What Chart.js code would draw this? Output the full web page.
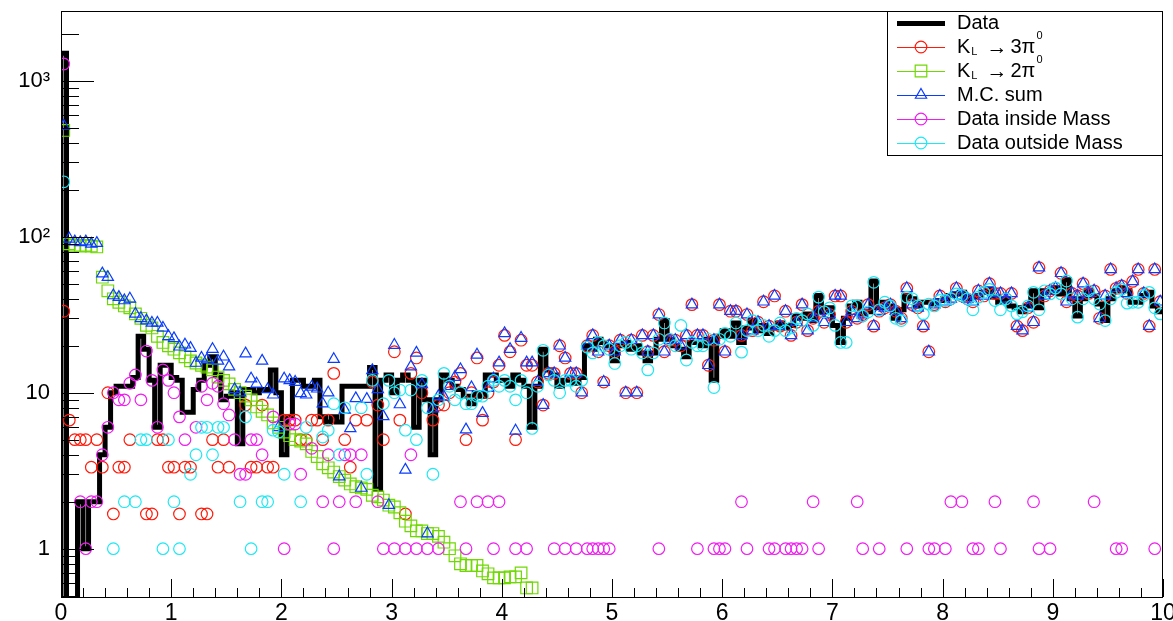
<!DOCTYPE html>
<html>
<head>
<meta charset="utf-8">
<title>KL -> pi0 spectrum</title>
<script src="https://cdn.jsdelivr.net/npm/chart.js@4.4.1/dist/chart.umd.min.js"></script>
<style>
  html, body { margin: 0; padding: 0; background: #fff; }
  #wrap { width: 1173px; height: 621px; }
</style>
</head>
<body>
<div id="wrap"><canvas id="c" width="1173" height="621"></canvas></div>
<script>
/* ============================================================
   Histogram: 200 bins of 0.05 between 0 and 10, log y axis
   ============================================================ */

const BIN_WIDTH = 0.05;
const xTickValues = [0, 1, 2, 3, 4, 5, 6, 7, 8, 9, 10];
const yTickValues = [1, 10, 100, 1000];
const yTickLabels = ['1', '10', '10\u00b2', '10\u00b3'];

/* Data (black histogram) */
const dataCounts = [
  1500, 0, 0, 2, 1, 2, 2, 4, 6, 10, 11, 11, 11, 12.5, 23, 19, 12, 6, 15, 15,
  12.5, 12, 7.5, 7.5, 10.5, 12, 15, 17, 13, 9, 9.5, 10, 4.7, 10.5, 10.5, 10, 10.5, 10.5, 14, 10,
  4, 7, 12, 12, 11, 11, 12, 7, 6.5, 7, 6.5, 11, 11, 11, 11, 11, 14.5, 2.4, 12, 13,
  10, 12, 13, 12, 6, 12, 9, 4, 9, 13, 12, 11, 10.5, 9.5, 8.5, 10, 9.5, 13, 13, 12,
  12, 11, 13, 12, 11, 6, 11, 19, 14, 13, 11, 12, 12.5, 11.5, 12.5, 20, 19, 22, 21, 20,
  16, 20, 21, 19, 20, 18, 16, 18, 22, 29, 22, 20, 19, 17, 21, 21, 20, 22, 12, 23,
  25, 23, 28, 21, 26, 29, 25, 27, 24, 26, 28, 26, 27, 31, 30, 32, 29, 42, 33, 35,
  27, 21, 30, 36, 38, 32, 33, 52, 35, 38, 36, 30, 34, 42, 40, 36, 38, 38, 37, 39,
  40, 42, 43, 44, 40, 41, 42, 44, 46, 41, 38, 40, 36, 35, 33, 36, 45, 35, 45, 44,
  47, 43, 53, 40, 31, 40, 45, 42, 37, 29, 40, 45, 47, 45, 38, 38, 42, 44, 36, 33
];

/* K_L -> 3pi0 (red circles) */
const k3pi0 = [
  33.3, 6.67, 5, 5, 5, 3.33, 5, 3.33, 10, 1.67, 3.33, 3.33, 5, 0, 0, 1.67, 1.67, 5, 5, 3.33,
  3.33, 1.67, 3.33, 3.33, 0, 1.67, 1.67, 5, 3.33, 5, 3.33, 0, 0, 8.33, 3.33, 3.33, 8.33, 3.33, 3.33, 0,
  6.67, 6.67, 6.67, 5, 5, 6.67, 6.67, 5, 6.67, 13.3, 0, 5, 3.33, 6.67, 0, 6.67, 11.7, 8.33, 5, 0,
  18.3, 6.67, 1.67, 13.3, 16.7, 10, 0, 6.67, 8.33, 8.33, 10, 11.7, 13.3, 5, 10, 16.7, 6.67, 10, 11.7, 15,
  23.3, 18.3, 5, 21.7, 15, 15, 11.7, 8.33, 13.3, 13.3, 20, 16.7, 13.3, 13.3, 10, 20, 23.3, 18.3, 11.7, 20,
  18.3, 21.7, 10, 21.7, 10, 23.3, 18.3, 23.3, 31.7, 18.3, 21.7, 21.7, 20, 23.3, 36.7, 23.3, 23.3, 15, 21.7, 36.7,
  18.3, 33.3, 33.3, 23.3, 31.7, 25, 28.3, 38.3, 26.7, 41.7, 26.7, 33.3, 23.3, 28.3, 36.7, 25, 30, 33.3, 28.3, 31.7,
  41.7, 41.7, 28.3, 33.3, 30, 31.7, 36.7, 26.7, 33.3, 35, 36.7, 33.3, 30, 46.7, 36.7, 35, 26.7, 18.3, 36.7, 41.7,
  38.3, 40, 46.7, 41.7, 40, 38.3, 45, 41.7, 50, 43.3, 43.3, 40, 43.3, 26.7, 25, 35, 28.3, 63.3, 41.7, 45,
  46.7, 58.3, 38.3, 43.3, 41.7, 50, 43.3, 45, 30, 41.7, 61.7, 46.7, 48.3, 43.3, 51.7, 61.7, 43.3, 26.7, 61.7, 38.3
];

/* K_L -> 2pi0 (green squares) */
const k2pi0 = [
  480, 90, 88, 87, 88, 87, 86, 55, 45, 40, 38, 36, 35, 32, 30, 27, 26, 23, 21, 20,
  19, 18, 17, 16, 15.5, 15, 14.6, 14, 12.6, 12, 11.4, 10.5, 10, 9.5, 9, 8.1, 7.6, 7.2, 6.4, 6,
  5.6, 5.3, 5, 4.9, 4.7, 4.2, 3.9, 3.5, 3.3, 3.1, 2.9, 2.75, 2.6, 2.5, 2.45, 2.4, 2.2, 2.15, 2.05, 1.9,
  1.85, 1.7, 1.5, 1.4, 1.3, 1.3, 1.25, 1.25, 1.2, 1.1, 1, 0.9, 0.8, 0.78, 0.78, 0.78, 0.72, 0.69, 0.65, 0.65,
  0.65, 0.66, 0.66, 0.7, 0.56, 0.56, 0, 0, 0, 0, 0, 0, 0, 0, 0, 0, 0, 0, 0, 0,
  0, 0, 0, 0, 0, 0, 0, 0, 0, 0, 0, 0, 0, 0, 0, 0, 0, 0, 0, 0,
  0, 0, 0, 0, 0, 0, 0, 0, 0, 0, 0, 0, 0, 0, 0, 0, 0, 0, 0, 0,
  0, 0, 0, 0, 0, 0, 0, 0, 0, 0, 0, 0, 0, 0, 0, 0, 0, 0, 0, 0,
  0, 0, 0, 0, 0, 0, 0, 0, 0, 0, 0, 0, 0, 0, 0, 0, 0, 0, 0, 0,
  0, 0, 0, 0, 0, 0, 0, 0, 0, 0, 0, 0, 0, 0, 0, 0, 0, 0, 0, 0
];

/* M.C. sum (blue triangles) */
const mcSum = [
  513, 97, 93, 92, 93, 90, 91, 58, 55, 42, 41, 39, 40, 32, 30, 29, 28, 28, 26, 23,
  22.3, 19.7, 20.3, 19.3, 15.5, 16.7, 16.3, 19, 16, 17, 14.7, 10.5, 10, 17.8, 12.3, 11.4, 16, 10.5, 9.7, 6,
  12.3, 12, 11.7, 9.9, 9.7, 10.9, 10.6, 8.5, 10, 16.4, 2.9, 7.75, 5.9, 9.2, 2.45, 9.1, 13.9, 10.5, 7.05, 1.9,
  20.2, 8.4, 3.2, 14.7, 18, 11.3, 1.25, 7.9, 9.5, 9.4, 11, 12.6, 14.1, 5.8, 10.8, 17.5, 7.4, 10.7, 12.3, 15.6,
  24, 19, 5.7, 22.4, 15.6, 15.6, 11.7, 8.33, 13.3, 13.3, 20, 16.7, 13.3, 13.3, 10, 20, 23.3, 18.3, 11.7, 20,
  18.3, 21.7, 10, 21.7, 10, 23.3, 18.3, 23.3, 31.7, 18.3, 21.7, 21.7, 20, 23.3, 36.7, 23.3, 23.3, 15, 21.7, 36.7,
  18.3, 33.3, 33.3, 23.3, 31.7, 25, 28.3, 38.3, 26.7, 41.7, 26.7, 33.3, 23.3, 28.3, 36.7, 25, 30, 33.3, 28.3, 31.7,
  41.7, 41.7, 28.3, 33.3, 30, 31.7, 36.7, 26.7, 33.3, 35, 36.7, 33.3, 30, 46.7, 36.7, 35, 26.7, 18.3, 36.7, 41.7,
  38.3, 40, 46.7, 41.7, 40, 38.3, 45, 41.7, 50, 43.3, 43.3, 40, 43.3, 26.7, 25, 35, 28.3, 63.3, 41.7, 45,
  46.7, 58.3, 38.3, 43.3, 41.7, 50, 43.3, 45, 30, 41.7, 61.7, 46.7, 48.3, 43.3, 51.7, 61.7, 43.3, 26.7, 61.7, 38.3
];

/* Data inside Mass (magenta circles) */
const dataInside = [
  1280, 0, 0, 2, 1, 2, 2, 4, 6, 10, 9, 9, 11.5, 13, 9, 18.5, 12, 6, 14, 12,
  10, 7, 5, 0, 6, 11, 9, 11.5, 11, 8.5, 7.2, 5, 3, 3, 5, 5, 4, 0, 7, 0,
  1, 6.3, 6.3, 3, 0, 4.4, 0, 2, 4, 1, 2, 4, 4, 2, 4, 0, 0, 2, 1, 0,
  1, 0, 1, 4, 1, 0, 1, 0, 1, 0, 0, 0, 2, 1, 0, 2, 0, 2, 1, 2,
  0, 0, 1, 0, 1, 0, 0, 0, 0, 1, 0, 1, 0, 1, 0, 1, 1, 1, 1, 1,
  0, 0, 0, 0, 0, 0, 0, 0, 1, 0, 0, 0, 0, 0, 0, 1, 0, 0, 1, 1,
  1, 0, 0, 2, 1, 0, 0, 0, 1, 1, 0, 1, 1, 1, 1, 0, 2, 1, 0, 0,
  0, 0, 0, 0, 2, 1, 0, 0, 1, 0, 0, 0, 0, 1, 0, 0, 0, 1, 1, 0,
  1, 2, 0, 2, 0, 1, 1, 0, 0, 2, 1, 0, 0, 0, 0, 0, 2, 1, 0, 1,
  0, 0, 0, 0, 0, 0, 0, 2, 0, 0, 0, 1, 1, 0, 0, 0, 0, 0, 1, 0
];

/* Data outside Mass (cyan circles) */
const dataOutside = [
  225, 0, 0, 0, 0, 0, 0, 0, 0, 1, 0, 2, 0, 2, 5, 5, 0, 0, 1, 5,
  2, 1, 0, 3, 4, 6, 6, 4, 6, 6, 0, 0, 2, 7, 1, 0, 2, 2, 5.75, 5.6,
  3, 0, 0, 2, 6, 0, 0, 5.2, 5.75, 8.5, 4, 8, 0, 0, 8, 3, 12, 0, 8.5, 12,
  10, 10.4, 5.75, 10.4, 5, 12, 8, 3, 9, 13.3, 11, 9, 10, 8.5, 8.5, 9.5, 9.5, 11, 12, 11,
  12, 11, 9, 12, 10, 5.9, 11, 18.7, 13, 12, 10, 12, 12, 11, 12, 19.6, 18, 21, 20, 19,
  15.4, 20, 21, 19, 20, 18, 14, 18, 22, 28, 22, 20, 27, 16.2, 21, 20, 20, 22, 10.8, 22,
  24, 23, 28, 18.2, 25, 29, 25, 27, 23, 25, 28, 25, 26, 30, 29, 32, 27, 41, 33, 35,
  27, 21, 21, 36, 36, 31, 33, 51, 34, 38, 36, 30, 29, 41, 40, 36, 32, 37, 36, 39,
  39, 40, 43, 42, 40, 34, 41, 44, 46, 39, 34, 40, 36, 32, 33, 36, 44, 34, 45, 43,
  47, 43, 52, 40, 30.5, 40, 45, 40, 37, 29, 40, 44, 46, 37.5, 38, 38, 42, 44, 35, 32
];

const COLORS = {
  data: '#000000',
  k3pi0: '#ff1a0a',
  k2pi0: '#6fd800',
  mcSum: '#0a3cff',
  inside: '#f01cf0',
  outside: '#1ee8f4'
};

const FONT = "'Liberation Sans', Arial, Helvetica, sans-serif";
const Y_MIN = 0.49, Y_MAX = 2800;
const FLOOR = 1e-3; // empty bins drop below the axis
const R_CIRCLE = 5.8, R_RECT = 8.2, R_TRI = 6.5;

const binCenters = dataCounts.map((_, i) => (i + 0.5) * BIN_WIDTH);

function markerPoints(values) {
  return values.map((v, i) => (v > 0 ? { x: binCenters[i], y: v } : null)).filter(p => p);
}

function histPoints(values) {
  const pts = [{ x: 0, y: FLOOR }];
  values.forEach((v, i) => pts.push({ x: (i + 1) * BIN_WIDTH, y: v > 0 ? v : FLOOR }));
  return pts;
}

function markerSet(label, values, color, style, radius, order) {
  return {
    label, data: markerPoints(values), showLine: false,
    pointStyle: style, pointRadius: radius, pointHoverRadius: radius,
    pointBorderWidth: 1.2, borderColor: color, pointBorderColor: color,
    pointBackgroundColor: 'rgba(0,0,0,0)', backgroundColor: 'rgba(0,0,0,0)', order
  };
}

/* ── ROOT-like frame with ticks drawn inside ─────────────── */
const rootFrame = {
  id: 'rootFrame',
  afterDatasetsDraw(chart) {
    const { ctx, chartArea: a, scales: { x, y } } = chart;
    const px = v => Math.round(v) + 0.5;
    ctx.save();
    ctx.strokeStyle = '#000';
    ctx.lineWidth = 1;
    ctx.beginPath();
    // x axis: majors every 1, minors every 0.2
    for (let k = 0; k <= 50; k++) {
      const xp = px(x.getPixelForValue(k * 0.2));
      const len = k % 5 === 0 ? 18 : 9;
      ctx.moveTo(xp, a.bottom);
      ctx.lineTo(xp, a.bottom - len);
    }
    // y axis: log ticks
    for (let e = -1; e <= 3; e++) {
      for (let m = 1; m <= 9; m++) {
        const v = m * Math.pow(10, e);
        if (v < Y_MIN || v > Y_MAX) continue;
        const yp = px(y.getPixelForValue(v));
        const len = m === 1 ? 33 : 18;
        ctx.moveTo(a.left, yp);
        ctx.lineTo(a.left + len, yp);
      }
    }
    ctx.stroke();
    ctx.strokeRect(px(a.left), px(a.top), Math.round(a.right - a.left) - 1, Math.round(a.bottom - a.top));
    ctx.restore();
  }
};

/* ── Legend box (top right, inside the frame) ────────────── */
const legendEntries = [
  { parts: [['Data', 'n']], color: COLORS.data, marker: null },
  { parts: [['K', 'n'], ['L', 'sub'], ['\u2192', 'arrow'], ['3\u03c0', 'n'], ['0', 'sup']], color: COLORS.k3pi0, marker: 'circle' },
  { parts: [['K', 'n'], ['L', 'sub'], ['\u2192', 'arrow'], ['2\u03c0', 'n'], ['0', 'sup']], color: COLORS.k2pi0, marker: 'rect' },
  { parts: [['M.C. sum', 'n']], color: COLORS.mcSum, marker: 'triangle' },
  { parts: [['Data inside Mass', 'n']], color: COLORS.inside, marker: 'circle' },
  { parts: [['Data outside Mass', 'n']], color: COLORS.outside, marker: 'circle' }
];

const rootLegend = {
  id: 'rootLegend',
  afterDraw(chart) {
    const { ctx, chartArea: a } = chart;
    const box = { left: 887, top: a.top, right: a.right, bottom: 155 };
    ctx.save();
    ctx.fillStyle = '#fff';
    ctx.fillRect(box.left, box.top, box.right - box.left, box.bottom - box.top);
    ctx.strokeStyle = '#000';
    ctx.lineWidth = 1;
    ctx.strokeRect(box.left + 0.5, box.top + 0.5, box.right - box.left - 1, box.bottom - box.top);
    const rowH = (box.bottom - box.top) / legendEntries.length;
    legendEntries.forEach((entry, i) => {
      const cy = box.top + rowH * (i + 0.5);
      // sample line
      ctx.strokeStyle = entry.color;
      ctx.lineWidth = entry.marker ? 1 : 5;
      ctx.beginPath();
      ctx.moveTo(897, Math.round(cy) + 0.5);
      ctx.lineTo(945, Math.round(cy) + 0.5);
      ctx.stroke();
      if (entry.marker) {
        ctx.fillStyle = 'rgba(0,0,0,0)';
        ctx.lineWidth = 1.2;
        const r = entry.marker === 'rect' ? R_RECT : entry.marker === 'triangle' ? R_TRI : R_CIRCLE;
        Chart.helpers.drawPoint(ctx, { pointStyle: entry.marker, radius: r, borderWidth: 1.2 }, 921, cy);
      }
      // text
      ctx.fillStyle = '#000';
      ctx.textBaseline = 'middle';
      let tx = 957;
      entry.parts.forEach(([t, kind]) => {
        if (kind === 'sub') {
          ctx.font = '11px ' + FONT;
          ctx.fillText(t, tx + 1, cy + 5);
          tx += ctx.measureText(t).width + 10;
        } else if (kind === 'sup') {
          ctx.font = '11px ' + FONT;
          ctx.fillText(t, tx + 1, cy - 11);
        } else if (kind === 'arrow') {
          ctx.font = '21px ' + FONT;
          ctx.fillText(t, tx, cy + 1);
          tx += ctx.measureText(t).width + 3;
        } else {
          ctx.font = '20px ' + FONT;
          ctx.fillText(t, tx, cy);
          tx += ctx.measureText(t).width;
        }
      });
    });
    ctx.restore();
  }
};

const datasets = [
  {
    label: 'Data', data: histPoints(dataCounts), stepped: 'after',
    borderColor: COLORS.data, borderWidth: 5, pointRadius: 0,
    borderJoinStyle: 'miter', borderCapStyle: 'butt', fill: false, clip: 0, order: 6
  },
  markerSet('K_L -> 3pi0', k3pi0, COLORS.k3pi0, 'circle', R_CIRCLE, 5),
  markerSet('K_L -> 2pi0', k2pi0, COLORS.k2pi0, 'rect', R_RECT, 4),
  markerSet('M.C. sum', mcSum, COLORS.mcSum, 'triangle', R_TRI, 3),
  markerSet('Data inside Mass', dataInside, COLORS.inside, 'circle', R_CIRCLE, 2),
  markerSet('Data outside Mass', dataOutside, COLORS.outside, 'circle', R_CIRCLE, 1)
];

new Chart(document.getElementById('c'), {
  type: 'line',
  data: { datasets },
  options: {
    responsive: false, animation: false, events: [],
    layout: { padding: { left: 0, right: 10, top: 11, bottom: 0 } },
    plugins: { legend: { display: false }, tooltip: { enabled: false } },
    scales: {
      x: {
        type: 'linear', min: 0, max: 10, bounds: 'data',
        grid: { display: false, drawTicks: false }, border: { display: false },
        afterBuildTicks: s => { s.ticks = xTickValues.map(v => ({ value: v })); },
        ticks: {
          color: '#000', padding: 3, maxRotation: 0, autoSkip: false,
          font: { family: FONT, size: 23 },
          callback: v => String(v)
        },
        afterFit: s => { s.height = 24; s.paddingLeft = 0; s.paddingRight = 0; }
      },
      y: {
        type: 'logarithmic', min: Y_MIN, max: Y_MAX, bounds: 'data',
        grid: { display: false, drawTicks: false }, border: { display: false },
        afterBuildTicks: s => { s.ticks = yTickValues.map(v => ({ value: v })); },
        ticks: {
          color: '#000', padding: 11, autoSkip: false,
          font: { family: FONT, size: 22 },
          callback: v => yTickLabels[yTickValues.indexOf(v)]
        },
        afterFit: s => { s.width = 61; s.paddingTop = 0; s.paddingBottom = 0; }
      }
    }
  },
  plugins: [rootFrame, rootLegend]
});
</script>
</body>
</html>
